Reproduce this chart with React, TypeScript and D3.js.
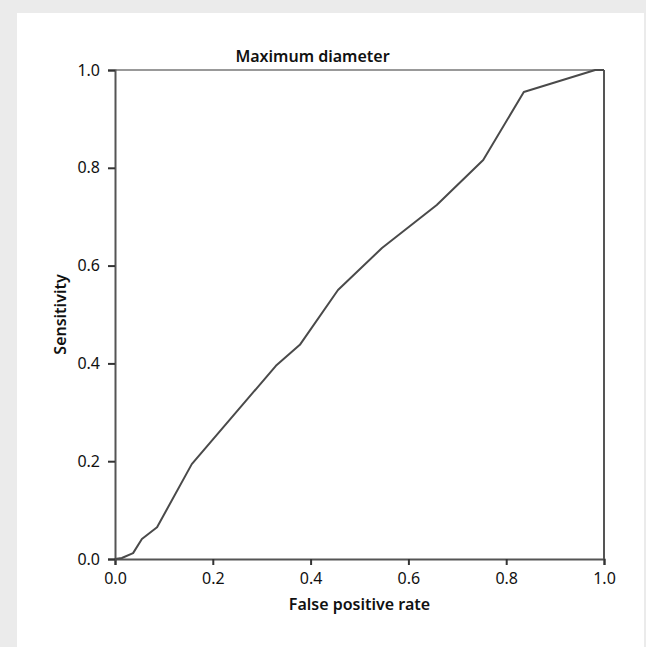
import React, { useEffect, useRef } from "react";
import * as d3 from "d3";

// ROC curve points
const falsePositiveRate = [0, 0.014, 0.037, 0.055, 0.086, 0.157, 0.329, 0.378, 0.456, 0.546, 0.658, 0.753, 0.836, 0.982, 1.0];
const sensitivity = [0, 0.002, 0.012, 0.041, 0.065, 0.194, 0.395, 0.438, 0.55, 0.636, 0.724, 0.816, 0.955, 1.0, 1.0];
const tickValues = [0, 0.2, 0.4, 0.6, 0.8, 1.0];

const chartTitle = "Maximum diameter";
const xLabel = "False positive rate";
const yLabel = "Sensitivity";

const W = 646;
const H = 647;
const margin = { top: 70, right: 42, bottom: 88, left: 115 };
const FONT = "'Noto Sans', sans-serif";

export default function App() {
  const ref = useRef<SVGSVGElement>(null);

  useEffect(() => {
    const svg = d3.select(ref.current);
    svg.selectAll("*").remove();

    // page background + white panel
    svg.append("rect").attr("width", W).attr("height", H).attr("fill", "#ebebeb");
    svg.append("rect").attr("x", 17).attr("y", 13).attr("width", 627).attr("height", H - 13).attr("fill", "#fff");

    const width = 489;
    const height = 489;
    const x = d3.scaleLinear().domain([0, 1]).range([0, width]);
    const y = d3.scaleLinear().domain([0, 1]).range([height, 0]);

    const g = svg.append("g").attr("transform", "translate(" + margin.left + "," + margin.top + ")");

    // frame: top light, right dark
    g.append("line")
      .attr("x1", 0).attr("x2", width).attr("y1", 0).attr("y2", 0)
      .attr("stroke", "#999").attr("stroke-width", 2);
    g.append("line")
      .attr("x1", width).attr("x2", width).attr("y1", 0).attr("y2", height)
      .attr("stroke", "#555").attr("stroke-width", 2);

    const xAxis = g.append("g")
      .attr("transform", "translate(0," + height + ")")
      .call(d3.axisBottom(x).tickValues(tickValues).tickFormat(d3.format(".1f")).tickSizeOuter(0).tickSize(6).tickPadding(8));
    const yAxis = g.append("g")
      .call(d3.axisLeft(y).tickValues(tickValues).tickFormat(d3.format(".1f")).tickSizeOuter(0).tickSize(7).tickPadding(8));

    [xAxis, yAxis].forEach((a) => {
      a.attr("font-size", 16).attr("font-family", FONT);
      a.select(".domain").attr("stroke", "#555").attr("stroke-width", 2);
      a.selectAll(".tick line").attr("stroke", "#333").attr("stroke-width", 2);
      a.selectAll(".tick text").attr("fill", "#111").style("font-family", FONT).style("font-size", "16px");
    });

    const pts = falsePositiveRate.map((f, i) => [f, sensitivity[i]] as [number, number]);
    const line = d3.line<[number, number]>().x((d) => x(d[0])).y((d) => y(d[1]));
    g.append("path")
      .datum(pts)
      .attr("d", line)
      .attr("fill", "none")
      .attr("stroke", "#4a4a4a")
      .attr("stroke-width", 2)
      .attr("stroke-linejoin", "round");

    // title and axis labels
    svg.append("text")
      .attr("x", margin.left + width / 2 - 47)
      .attr("y", 62)
      .attr("text-anchor", "middle")
      .style("font-family", FONT).style("font-size", "16px").style("font-weight", 600)
      .attr("fill", "#111")
      .text(chartTitle);

    svg.append("text")
      .attr("x", margin.left + width / 2)
      .attr("y", 610)
      .attr("text-anchor", "middle")
      .style("font-family", FONT).style("font-size", "16px").style("font-weight", 600)
      .attr("fill", "#111")
      .text(xLabel);

    svg.append("text")
      .attr("transform", "translate(66," + (margin.top + height / 2) + ") rotate(-90)")
      .attr("text-anchor", "middle")
      .style("font-family", FONT).style("font-size", "16px").style("font-weight", 600)
      .attr("fill", "#111")
      .text(yLabel);
  }, []);

  return (
    <svg ref={ref} width={W} height={H} style={{ position: "absolute", left: 0, top: 0 }}></svg>
  );
}
